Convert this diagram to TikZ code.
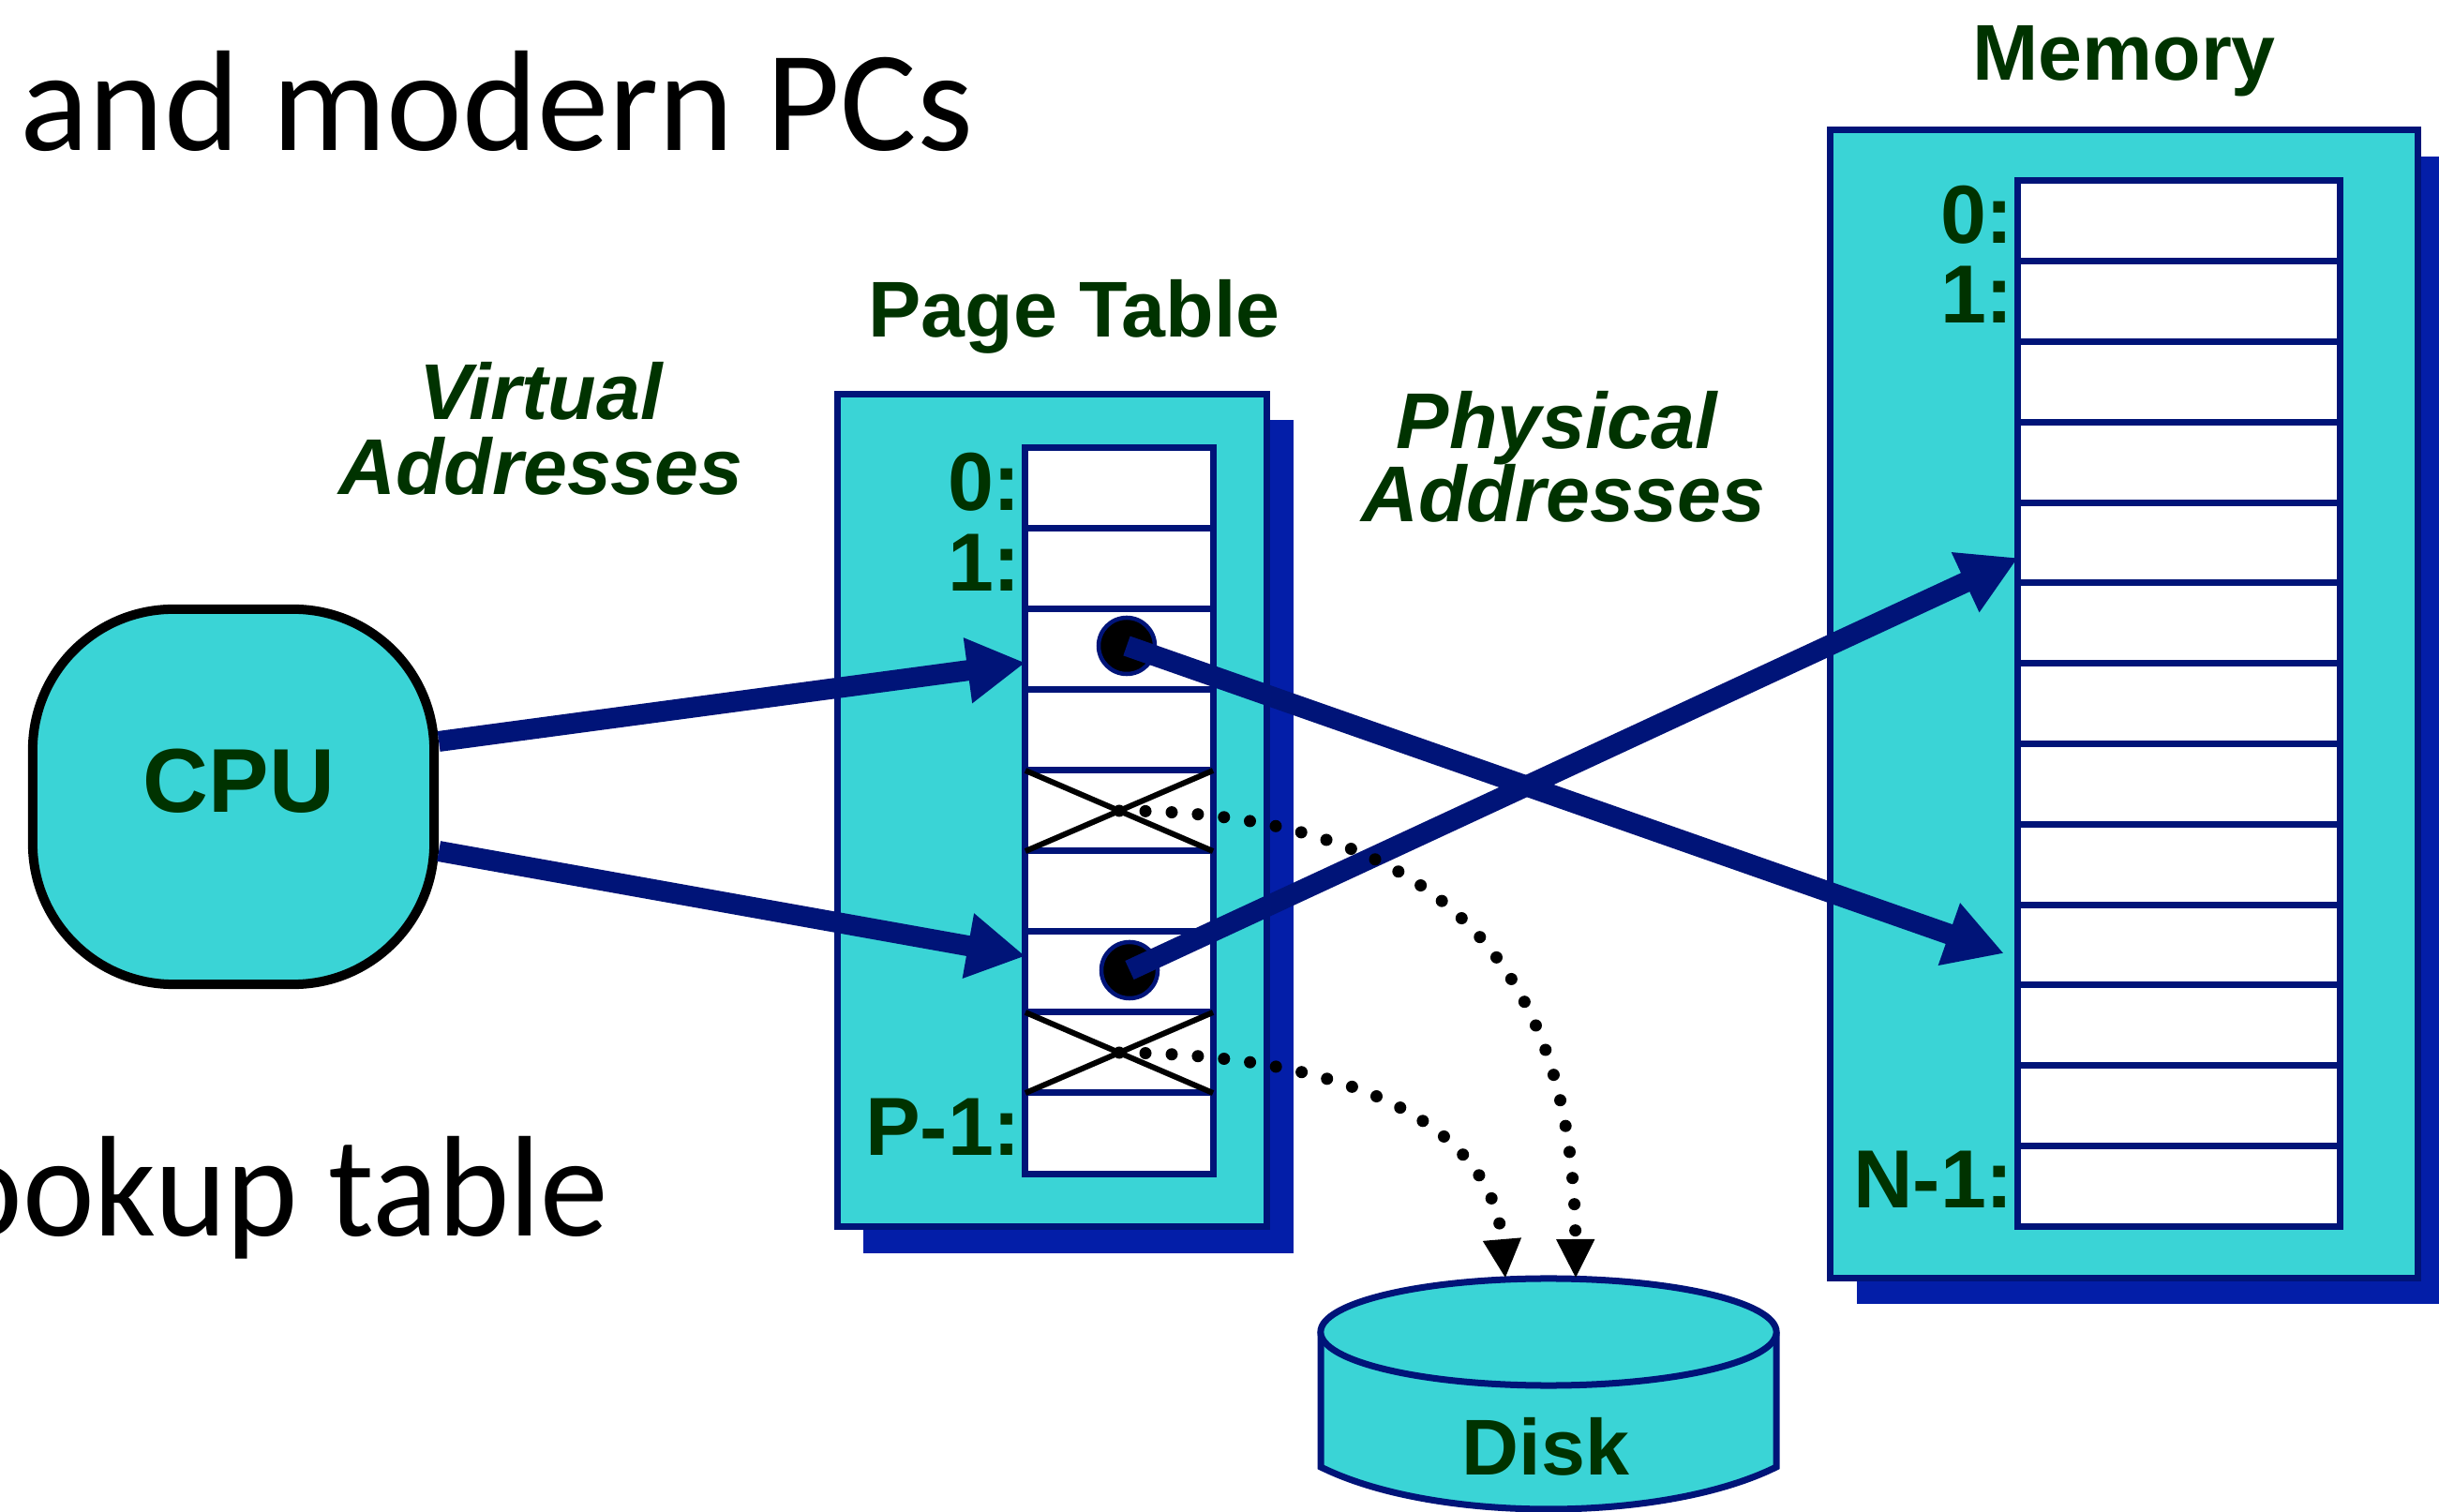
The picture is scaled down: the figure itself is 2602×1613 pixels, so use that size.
\documentclass[tikz,border=0pt]{standalone}
\usepackage{fontspec}
\setmainfont{Liberation Sans}
\newfontfamily\slidefont{Carlito}
\usetikzlibrary{arrows.meta,shadows}

\definecolor{boxcyan}{RGB}{58,212,214}
\definecolor{navy}{RGB}{0,20,120}
\definecolor{shadowblue}{RGB}{3,30,168}
\definecolor{labelgreen}{RGB}{0,51,0}

\begin{document}
\begin{tikzpicture}[x=0.01cm, y=-0.01cm,
  panel/.style={draw=navy, fill=boxcyan, line width=0.07cm, inner sep=0, outer sep=0,
    drop shadow={shadow xshift=0.28cm, shadow yshift=-0.28cm, fill=shadowblue, opacity=1}},
  cell/.style={draw=navy, fill=white, line width=0.07cm, minimum width=2cm,
    minimum height=0.86cm, inner sep=0, outer sep=0},
  memcell/.style={cell, minimum width=3.43cm, minimum height=0.858cm},
  idx/.style={text=labelgreen, font=\fontsize{25}{30}\selectfont\bfseries, inner sep=0,
    anchor=east, xshift=-0.04cm, yshift=0.07cm},
  title/.style={text=labelgreen, font=\fontsize{24}{28}\selectfont\bfseries, inner sep=0, anchor=base},
  ititle/.style={title, font=\fontsize{24}{28}\selectfont\bfseries\itshape},
  slidetext/.style={text=black, font=\slidefont\fontsize{43.5}{50}\selectfont, inner sep=0},
  cpubox/.style={draw=black, fill=boxcyan, line width=0.1cm, rounded corners=1.5cm,
    minimum width=4.28cm, minimum height=4.0cm, inner sep=0},
  ptr/.style={draw=navy, line width=0.22cm, -{Triangle[length=0.62cm, width=0.66cm]}},
  invalid/.style={draw=black, line width=0.06cm},
  entry/.style={circle, fill=black, draw=navy, line width=0.045cm, minimum size=0.6cm, inner sep=0},
  swapline/.style={draw=black, line width=0.13cm, line cap=round,
    dash pattern=on 0pt off 0.28cm, -{Triangle[length=0.42cm, width=0.38cm]}},
  disk/.style={draw=navy, fill=boxcyan, line width=0.07cm}
]
\useasboundingbox (0,0) rectangle (2602,1613);

% slide text around the figure
\node[slidetext, anchor=base west] (heading) at (21,161) {and modern PCs};
\node[slidetext, anchor=base east] (bullet) at (650,1319) {\scalebox{0.95}[1]{ookup table}};

% panels with their drop shadows
\node[panel, minimum width=4.58cm, minimum height=8.88cm] (ptpanel) at (1122.5,864.5) {};
\node[panel, minimum width=6.26cm, minimum height=12.24cm] (mempanel) at (2266,751) {};

% page table entries
\foreach \i in {0,...,8} {
  \node[cell] (pt\i) at (1194,{521+86*\i}) {};
}
% physical memory frames
\foreach \i in {0,...,12} {
  \node[memcell] (mem\i) at (2324.5,{235.9+85.8*\i}) {};
}

% invalid entries (pages on disk)
\foreach \i in {4,7} {
  \draw[invalid] (pt\i.north west) -- (pt\i.south east)
                 (pt\i.south west) -- (pt\i.north east);
}

% index labels
\node[idx] (ptl0) at (pt0.west) {0:};
\node[idx] (ptl1) at (pt1.west) {1:};
\node[idx] (ptl8) at (pt8.west) {P-1:};
\node[idx] (meml0) at (mem0.west) {0:};
\node[idx] (meml1) at (mem1.west) {1:};
\node[idx] (meml12) at (mem12.west) {N-1:};

% titles
\node[title] (pttitle) at (1146,360) {Page Table};
\node[title] (memtitle) at (2266,86) {Memory};
\node[ititle] (virt1) at (577,448) {Virtual};
\node[ititle] (virt2) at (577,528) {Addresses};
\node[ititle] (phys1) at (1661,479) {Physical};
\node[ititle] (phys2) at (1668,557) {Addresses};

% CPU
\node[cpubox] (cpu) at (249,850) {};
\node[title, anchor=center, font=\fontsize{27.5}{32}\selectfont\bfseries] (cputext) at (255,833) {CPU};

% virtual addresses into the page table
\draw[ptr] ([yshift=0.59cm]cpu.east) -- ([yshift=-0.14cm]pt2.west);
\draw[ptr] ([yshift=-0.58cm]cpu.east) -- ([yshift=0.17cm]pt6.west);

% valid entries pointing to physical frames
\node[entry] (d1) at (1202,689) {};
\node[entry] (d2) at (1205,1035) {};
\draw[ptr] (d1.center) -- ([xshift=-0.15cm, yshift=-0.09cm]mem9.west);
\draw[ptr] (d2.center) -- ([yshift=-0.16cm]mem4.west);

% disk
\draw[disk] (1409,1421) -- (1409,1565) .. controls (1530,1625) and (1774,1625) .. (1895,1565) -- (1895,1421);
\draw[disk] (1652,1421) ellipse [x radius=2.43cm, y radius=0.57cm];
\node[title] (disktext) at (1649,1573) {Disk};
\coordinate (diskin1) at (1606,1364);
\coordinate (diskin2) at (1681,1364);

% invalid entries resolved from disk
\draw[swapline] (pt4.center) .. controls (1533,865) and (1679,1029) .. (diskin2);
\draw[swapline] (pt7.center) .. controls (1460,1125) and (1593,1211) .. (diskin1);
\end{tikzpicture}
\end{document}
